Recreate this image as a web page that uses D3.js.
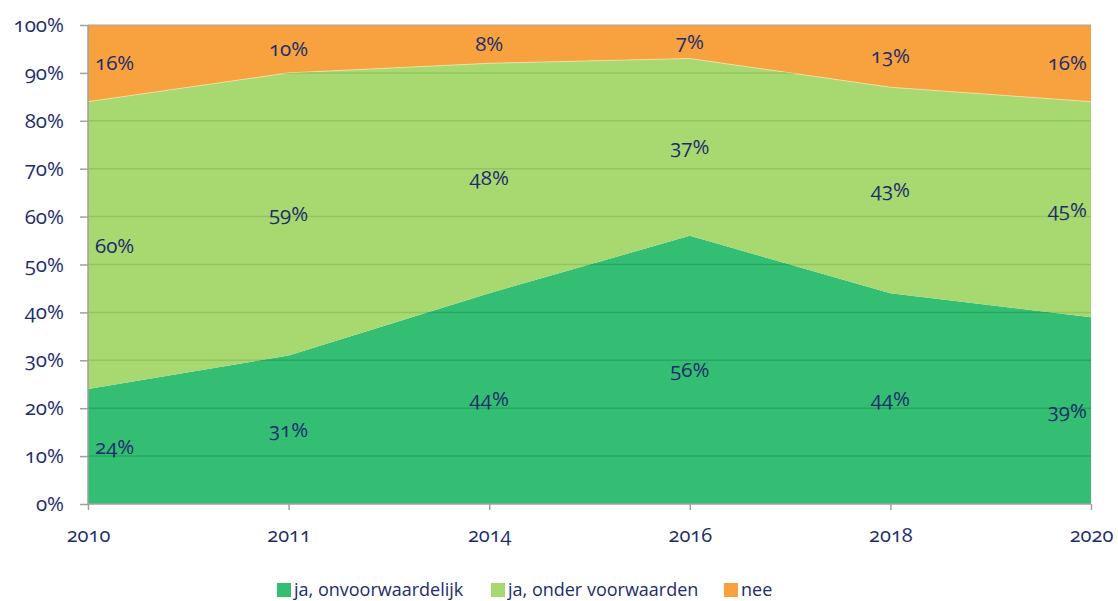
<!DOCTYPE html>
<html><head><meta charset="utf-8">
<script src="https://cdn.jsdelivr.net/npm/d3@7"></script>
<style>
body{margin:0;background:#fff;}
text{font-family:"Open Sans",sans-serif;fill:#1c2d6b;font-variant-numeric:oldstyle-nums;}
</style></head>
<body><svg id="c" width="1118" height="601"></svg>
<script>
const years = ["2010","2011","2014","2016","2018","2020"];
const jaOnvoorwaardelijk = [24,31,44,56,44,39];
const jaOnderVoorwaarden = [60,59,48,37,43,45];
const nee = [16,10,8,7,13,16];
const seriesNames = ["ja, onvoorwaardelijk","ja, onder voorwaarden","nee"];
const colors = ["#33be73","#a8d870","#f7a13f"];
const yTicks = [0,10,20,30,40,50,60,70,80,90,100];

const rows = years.map((y,i)=>({year:y, a:jaOnvoorwaardelijk[i], b:jaOnderVoorwaarden[i], c:nee[i]}));
const stack = d3.stack().keys(["a","b","c"])(rows);

const svg = d3.select("#c");
const L=88, R=1091, T=25, B=504;
const x = d3.scalePoint().domain(years).range([L,R]);
const y = d3.scaleLinear().domain([0,100]).range([B,T]);

const area = d3.area().x(d=>x(d.data.year)).y0(d=>y(d[0])).y1(d=>y(d[1]));

svg.append("g").selectAll("path").data(stack).join("path")
  .attr("d",area).attr("fill",(d,i)=>colors[i]);

svg.append("path").datum(stack[1])
  .attr("d",d3.line().x(d=>x(d.data.year)).y(d=>y(d[1])))
  .attr("fill","none").attr("stroke","#f3e3b0").attr("stroke-width",0.8);

const defs = svg.append("defs");
const gs = [["clipDark",0],["clipLight",1]];
gs.forEach(([id,k])=>{
  defs.append("clipPath").attr("id",id).append("path").datum(stack[k]).attr("d",area);
});
const gridCols = {clipDark:"#26a860", clipLight:"#92c65c"};
gs.forEach(([id])=>{
  svg.append("g").attr("clip-path",`url(#${id})`).selectAll("line")
    .data(yTicks.filter(t=>t>0&&t<100)).join("line")
    .attr("x1",L).attr("x2",R).attr("y1",d=>y(d)).attr("y2",d=>y(d))
    .attr("stroke",gridCols[id]).attr("stroke-width",1.5);
});
svg.append("line").attr("x1",L).attr("x2",R).attr("y1",y(100)).attr("y2",y(100))
  .attr("stroke","#a6a6a6").attr("stroke-width",1.2);

const yAxis = d3.axisLeft(y).tickValues(yTicks).tickFormat(d=>d+"%").tickSize(8).tickPadding(16);
const gy = svg.append("g").attr("transform",`translate(${L},0)`).call(yAxis);
gy.selectAll("text").attr("font-size",20.5);
gy.selectAll("line,path").attr("stroke","#a0a0a0").attr("stroke-width",1.5);
gy.select(".domain").attr("d",`M0,${B}V${T}`);

const xAxis = d3.axisBottom(x).tickSize(6).tickPadding(18);
const gx = svg.append("g").attr("transform",`translate(0,${B})`).call(xAxis);
gx.selectAll("text").attr("font-size",20);
gx.selectAll("line,path").attr("stroke","#a0a0a0").attr("stroke-width",1.5);
gx.select(".domain").attr("d",`M${L},0H${R}`);
svg.selectAll(".tick text").attr("fill","#1c2d6b");

const lbl = svg.append("g");
stack.forEach((s,k)=>{
  s.forEach((d,i)=>{
    const xi = x(d.data.year);
    let anchor="middle", dx=0;
    if(i===0){anchor="start"; dx=7;}
    if(i===years.length-1){anchor="end"; dx=-4;}
    lbl.append("text").attr("x",xi+dx).attr("y",y((d[0]+d[1])/2))
      .attr("dy","0.35em").attr("text-anchor",anchor).attr("font-size",20.5)
      .text((d[1]-d[0])+"%");
  });
});

const legX=[277,491,724];
const lg = svg.append("g");
seriesNames.forEach((n,i)=>{
  lg.append("rect").attr("x",legX[i]).attr("y",583).attr("width",14).attr("height",14).attr("fill",colors[i]);
  lg.append("text").attr("x",legX[i]+17).attr("y",590).attr("dy","0.35em").attr("font-size",18).text(n);
});
</script></body></html>
